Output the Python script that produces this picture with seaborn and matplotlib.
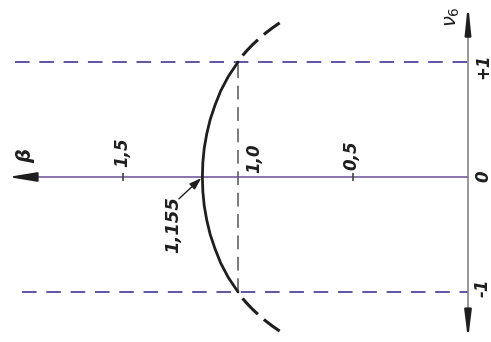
import matplotlib
matplotlib.use("Agg")
import matplotlib.pyplot as plt
import seaborn as sns
import pandas as pd

# Yield curve beta(nu6), solid part between nu6 = -1 and +1
nu_solid = [-1.0, -0.875, -0.75, -0.625, -0.5, -0.375, -0.25, -0.125, 0.0,
            0.125, 0.25, 0.375, 0.5, 0.625, 0.75, 0.875, 1.0]
beta_solid = [1.0, 1.042, 1.075, 1.100, 1.121, 1.136, 1.147, 1.153, 1.155,
              1.153, 1.147, 1.136, 1.121, 1.100, 1.075, 1.042, 1.0]

# Dashed continuation beyond |nu6| = 1
nu_ext_up = [1.0, 1.05, 1.1, 1.15, 1.2, 1.25, 1.3, 1.34]
beta_ext_up = [1.0, 0.983, 0.961, 0.937, 0.910, 0.881, 0.848, 0.819]
nu_ext_dn = [-1.0, -1.05, -1.1, -1.15, -1.2, -1.25, -1.3, -1.34]
beta_ext_dn = [1.0, 0.983, 0.961, 0.937, 0.910, 0.881, 0.848, 0.819]

# Axis annotations
beta_ticks = [0.5, 1.0, 1.5]
beta_tick_labels = ["0,5", "1,0", "1,5"]
nu_ticks = [1, 0, -1]
nu_tick_labels = ["+1", "0", "-1"]
beta_peak = 1.155
beta_peak_label = "1,155"

sns.set_theme(style="white")
plt.rcParams["font.family"] = ["DejaVu Sans"]

fig = plt.figure(figsize=(4.91, 3.42), dpi=100)
ax = fig.add_axes([0, 0, 1, 1])
ax.set_xlim(2.035, -0.1)
ax.set_ylim(-1.435, 1.539)
ax.axis("off")

ink = "#1e1e1e"
guide = "#5b55a6"

# beta axis (horizontal, pointing left)
ax.plot([0, 1.96], [0, 0], color="#6a4f96", lw=1.1, zorder=2)
ax.annotate("", xy=(2.0, 0), xytext=(1.88, 0),
            arrowprops=dict(arrowstyle="-|>,head_length=1.7,head_width=0.28",
                            color=ink, lw=1.4, mutation_scale=10, shrinkA=0, shrinkB=0))
for b in beta_ticks:
    if b != 1.0:
        ax.plot([b], [0], marker="|", ms=6, mew=1.2, color="#444444")

# nu6 axis (vertical, arrows at both ends)
ax.plot([0, 0], [-1.3, 1.38], color="#7a7a7a", lw=1.1, zorder=2)
ax.annotate("", xy=(0, 1.505), xytext=(0, 1.36),
            arrowprops=dict(arrowstyle="-|>,head_length=1.6,head_width=0.17",
                            color=ink, lw=1.6, mutation_scale=10, shrinkA=0, shrinkB=0))
ax.annotate("", xy=(0, -1.415), xytext=(0, -1.27),
            arrowprops=dict(arrowstyle="-|>,head_length=1.6,head_width=0.2",
                            color=ink, lw=1.6, mutation_scale=10, shrinkA=0, shrinkB=0))

# Guide lines at nu6 = +/-1 and beta = 1
ax.plot([1.97, 0], [1, 1], color=guide, lw=1.4, ls=(0, (7.5, 5)), zorder=1)
ax.plot([1.94, 0], [-1, -1], color=guide, lw=1.4, ls=(0, (7.5, 5)), zorder=1)
ax.plot([1.0, 1.0], [-1, 1], color="#555555", lw=1.1, ls=(0, (9, 5)), zorder=1)

# Curve
df_solid = pd.DataFrame({"beta": beta_solid, "nu": nu_solid})
sns.lineplot(data=df_solid, x="beta", y="nu", sort=False, estimator=None,
             color=ink, lw=2.0, ax=ax, zorder=3)
for nus, bes in [(nu_ext_up, beta_ext_up), (nu_ext_dn, beta_ext_dn)]:
    df_ext = pd.DataFrame({"beta": bes, "nu": nus})
    sns.lineplot(data=df_ext, x="beta", y="nu", sort=False, estimator=None,
                 color=ink, lw=2.2, ls=(7.2, (7.2, 2.6)), ax=ax, zorder=3)

# Labels
txt = dict(rotation=90, ha="center", va="center", color=ink,
           fontsize=12, style="italic", fontweight="semibold")
ax.text(1.922, 0.183, "β", **{**txt, "fontsize": 14})
label_pos = {0.5: (0.509, 0.191), 1.0: (0.930, 0.165), 1.5: (1.504, 0.217)}
for b, lab in zip(beta_ticks, beta_tick_labels):
    x, y = label_pos[b]
    ax.text(x, y, lab, **txt)
ax.text(0.068, 1.39, r"$\nu_6$", rotation=90, ha="center", va="center",
        color=ink, fontsize=14)
for n, lab in zip(nu_ticks, nu_tick_labels):
    ax.text(-0.065, n * 0.96 if n else 0.009, lab, **txt)

ax.text(1.283, -0.417, beta_peak_label, **{**txt, "fontsize": 13})
ax.annotate("", xy=(beta_peak + 0.005, -0.01), xytext=(1.257, -0.19),
            arrowprops=dict(arrowstyle="-|>,head_length=0.6,head_width=0.2",
                            color=ink, lw=1.0, shrinkA=0, shrinkB=0))

fig.savefig("out.png", dpi=100)
